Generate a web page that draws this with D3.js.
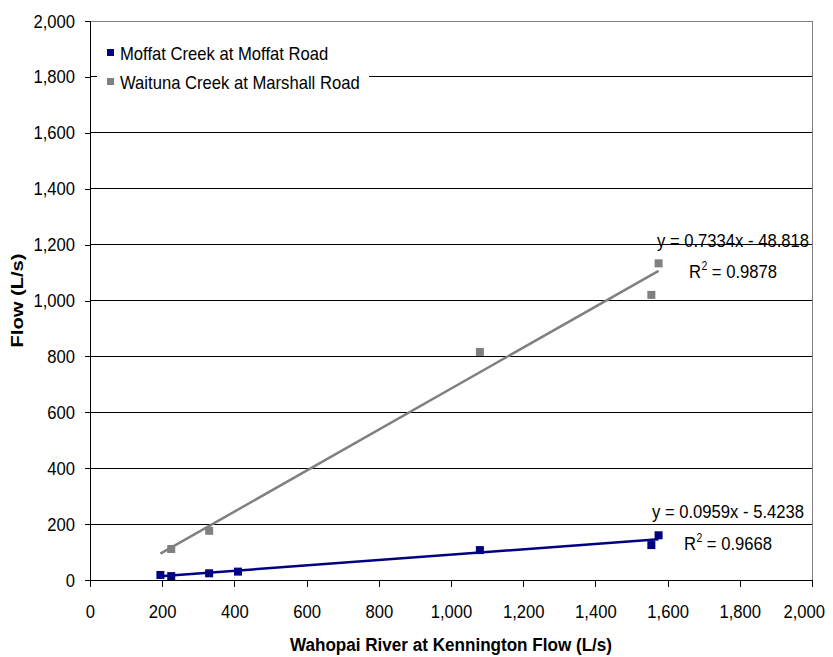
<!DOCTYPE html>
<html>
<head>
<meta charset="utf-8">
<script src="https://d3js.org/d3.v7.min.js"></script>
<style>
  body { margin: 0; background: #fff; }
  text { font-family: "Liberation Sans", Arial, sans-serif; fill: #000; }
</style>
</head>
<body>
<div class="wrapper"></div>
<script>
// values
var kenningtonFlow = [195, 225, 330, 410, 1080, 1555, 1575];
var moffatFlow     = [18, 14, 24, 30, 107, 125, 160];
var waitunaFlow    = [null, 111, 176, null, 816, 1020, 1133];

var seriesNames = ["Moffat Creek at Moffat Road", "Waituna Creek at Marshall Road"];
var trendSlope  = [0.0959, 0.7334];
var trendOffset = [-5.4238, -48.818];
var trendEq     = ["y = 0.0959x - 5.4238", "y = 0.7334x - 48.818"];
var trendR2     = ["0.9668", "0.9878"];
var trendRange  = [195, 1575];

var xTicks = [0, 200, 400, 600, 800, 1000, 1200, 1400, 1600, 1800, 2000];
var yTicks = [0, 200, 400, 600, 800, 1000, 1200, 1400, 1600, 1800, 2000];

// dimensions
var width = 833, height = 657;
var margin = {top: 21, right: 21, bottom: 77, left: 90};
var colors = ["#000080", "#808080"];
var squeeze = 0.875;

var svg = d3.select(".wrapper")
  .append("svg")
    .attr("width", width)
    .attr("height", height);

var x = d3.scaleLinear().domain([0, 2000]).range([margin.left, width - margin.right]);
var y = d3.scaleLinear().domain([0, 2000]).range([height - margin.bottom, margin.top]);

var fmt = d3.format(",");

// gridlines
svg.selectAll("grid")
  .data(yTicks.slice(1, -1)).enter()
  .append("line")
    .attr("x1", x(0)).attr("x2", x(2000))
    .attr("y1", function(d) { return y(d); })
    .attr("y2", function(d) { return y(d); })
    .style("stroke", "#000")
    .style("stroke-width", 1)
    .attr("shape-rendering", "crispEdges");

// gray border top / right
svg.append("path")
  .attr("d", "M" + x(0) + "," + y(2000) + "H" + x(2000) + "V" + y(0))
  .style("fill", "none")
  .style("stroke", "#808080")
  .attr("shape-rendering", "crispEdges");

// axes
var xAxis = svg.append("g")
  .attr("transform", "translate(0," + y(0) + ")")
  .call(d3.axisBottom(x).tickValues(xTicks).tickSize(7).tickFormat(fmt).tickPadding(18));
var yAxis = svg.append("g")
  .attr("transform", "translate(" + x(0) + ",0)")
  .call(d3.axisLeft(y).tickValues(yTicks).tickSize(5).tickFormat(fmt).tickPadding(10));

[xAxis, yAxis].forEach(function(a) {
  a.select(".domain").style("stroke", "#000").attr("shape-rendering", "crispEdges");
  a.selectAll(".tick line").style("stroke", "#000").attr("shape-rendering", "crispEdges");
  a.selectAll("text").attr("class", "c").style("font-size", "19px")
    .style("font-family", "'Liberation Sans', Arial, sans-serif");
});
xAxis.selectAll("text").attr("dy", "0.68em");

// trendlines
var series = [moffatFlow, waitunaFlow];
series.forEach(function(vals, i) {
  svg.append("path")
    .attr("d", d3.line()(trendRange.map(function(v) {
      return [x(v), y(trendSlope[i] * v + trendOffset[i])];
    })))
    .style("fill", "none")
    .style("stroke", colors[i])
    .style("stroke-width", 2.5);
});

// markers
var ms = 8;
series.forEach(function(vals, i) {
  var pts = kenningtonFlow.map(function(k, j) { return {k: k, v: vals[j]}; })
    .filter(function(d) { return d.v != null; });
  svg.selectAll("pt" + i)
    .data(pts).enter()
    .append("rect")
      .attr("x", function(d) { return x(d.k) - ms / 2; })
      .attr("y", function(d) { return y(d.v) - ms / 2; })
      .attr("width", ms).attr("height", ms)
      .style("fill", colors[i]);
});

// small helper: squeezed text, returns its drawn width
function label(px, py, str, size) {
  var t = svg.append("text")
    .attr("x", px).attr("y", py)
    .style("font-size", size + "px")
    .text(str);
  var w = t.node().getComputedTextLength() * squeeze;
  t.attr("textLength", w).attr("lengthAdjust", "spacingAndGlyphs");
  return w;
}

// trendline labels
var eqPos = [{x: 652, y: 518, rx: 684, ry: 550}, {x: 657, y: 247, rx: 689, ry: 278}];
eqPos.forEach(function(p, i) {
  label(p.x, p.y, trendEq[i], 19);
  var w1 = label(p.rx, p.ry, "R", 19);
  var w2 = label(p.rx + w1 + 0.5, p.ry - 8, "2", 12);
  label(p.rx + w1 + w2 + 5, p.ry, "= " + trendR2[i], 19);
});

// legend
var legend = svg.append("g");
legend.append("rect")
  .attr("x", 97).attr("y", 36).attr("width", 272).attr("height", 62)
  .style("fill", "#fff");
seriesNames.forEach(function(name, i) {
  legend.append("rect")
    .attr("x", 107).attr("y", 49 + i * 29)
    .attr("width", 7).attr("height", 7)
    .style("fill", colors[i]);
  label(120, 60 + i * 29, name, 19);
});

// compress tick labels horizontally like the original
svg.selectAll("text.c").each(function() {
  var w = this.getComputedTextLength();
  d3.select(this).attr("textLength", w * squeeze).attr("lengthAdjust", "spacingAndGlyphs");
});

// last x label sits at the right edge: keep it inside the page
xAxis.selectAll(".tick").filter(function(d) { return d === 2000; })
  .select("text").attr("text-anchor", "start").attr("x", -29);

// axis titles
svg.append("text")
  .attr("x", (x(0) + x(2000)) / 2).attr("y", 651)
  .attr("text-anchor", "middle")
  .attr("textLength", 322).attr("lengthAdjust", "spacingAndGlyphs")
  .style("font-size", "18px").style("font-weight", "bold")
  .text("Wahopai River at Kennington Flow (L/s)");

svg.append("text")
  .attr("transform", "translate(23," + (y(1000)) + ") rotate(-90)")
  .attr("text-anchor", "middle")
  .attr("textLength", 94).attr("lengthAdjust", "spacingAndGlyphs")
  .style("font-size", "16px").style("font-weight", "bold")
  .text("Flow (L/s)");
</script>
</body>
</html>
